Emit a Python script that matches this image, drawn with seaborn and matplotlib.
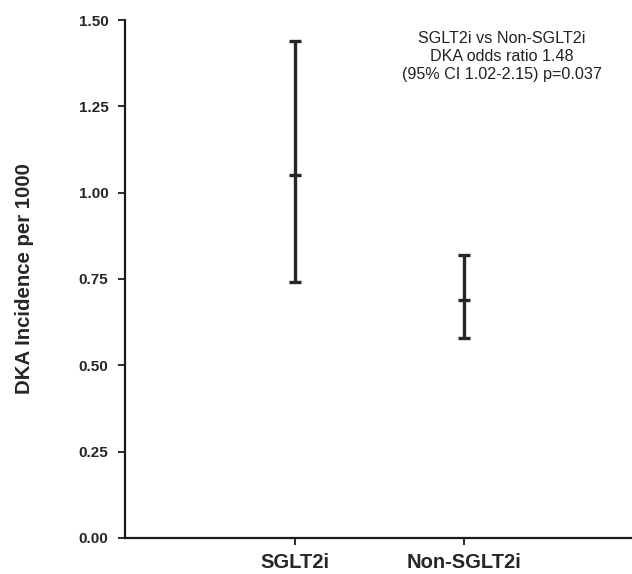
import matplotlib
matplotlib.use("Agg")
import matplotlib.pyplot as plt
import seaborn as sns
import pandas as pd

groups = ["SGLT2i", "Non-SGLT2i"]
incidence = [1.05, 0.69]
ci_low = [0.74, 0.58]
ci_high = [1.44, 0.82]
yticks = [0.00, 0.25, 0.50, 0.75, 1.00, 1.25, 1.50]
note = "SGLT2i vs Non-SGLT2i\nDKA odds ratio 1.48\n(95% CI 1.02-2.15) p=0.037"

sns.set_theme(style="ticks")
plt.rcParams['font.family'] = ['Liberation Sans', 'DejaVu Sans']

df = pd.DataFrame({"group": groups, "inc": incidence, "lo": ci_low, "hi": ci_high})

fig = plt.figure(figsize=(6.32, 5.74), dpi=100)
ax = fig.add_axes([0.198, 0.063, 0.80, 0.902])

col = "#262626"
xpos = list(range(len(groups)))
err_lo = [m - l for m, l in zip(incidence, ci_low)]
err_hi = [h - m for m, h in zip(incidence, ci_high)]
ax.errorbar(xpos, incidence, yerr=[err_lo, err_hi], fmt="none", ecolor=col,
            elinewidth=2.4, capsize=4.5, capthick=2.4)
sns.scatterplot(data=df, x=xpos, y="inc", marker="_", s=80, color=col,
                linewidth=2.4, ax=ax, legend=False)

ax.set_xlim(-1.0, 1.98)
ax.set_ylim(0, 1.5)
ax.set_xticks(xpos)
ax.set_xticklabels(groups, fontsize=14.5, fontweight="bold")
ax.set_yticks(yticks)
ax.set_yticklabels([f"{v:.2f}" for v in yticks], fontsize=11, fontweight="bold")
ax.set_ylabel("DKA Incidence per 1000", fontsize=14.7, fontweight="bold")
ax.yaxis.set_label_coords(-0.18, 0.5)
ax.set_xlabel("")
ax.tick_params(axis="both", direction="out", length=5, width=1.3, color="#1a1a1a")
ax.tick_params(axis="y", pad=7)
ax.tick_params(axis="x", pad=6)
for s in ["left", "bottom"]:
    ax.spines[s].set_linewidth(1.6)
    ax.spines[s].set_color("#1a1a1a")
sns.despine(ax=ax)

ax.text(1.22, 1.395, note, ha="center", va="center", fontsize=11.6,
        color="#222222", linespacing=1.25)

fig.savefig("out.png", dpi=100)
